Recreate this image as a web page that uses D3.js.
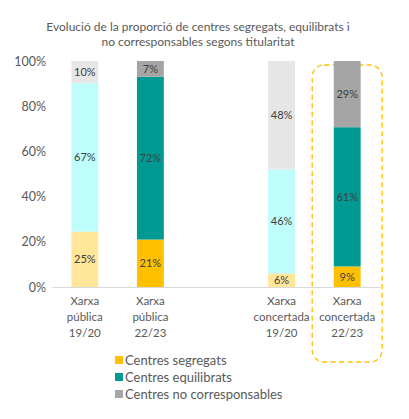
<!DOCTYPE html>
<html>
<head>
<meta charset="utf-8">
<script src="https://cdn.jsdelivr.net/npm/d3@7"></script>
<style>
  body { margin: 0; background: #fff; }
  text { font-family: Lato, "Open Sans", sans-serif; }
</style>
</head>
<body>
<svg width="409" height="419"></svg>
<script>
var categories = ["Xarxa pública 19/20", "Xarxa pública 22/23", "", "Xarxa concertada 19/20", "Xarxa concertada 22/23"];
var periods = ["19/20", "22/23", null, "19/20", "22/23"];
var seriesNames = ["Centres segregats", "Centres equilibrats", "Centres no corresponsables"];
var segregats = [25, 21, null, 6, 9];
var equilibrats = [67, 72, null, 46, 61];
var noCorresponsables = [10, 7, null, 48, 29];
var yTicks = [0, 0.2, 0.4, 0.6, 0.8, 1];
var titleLines = ["Evolució de la proporció de centres segregats, equilibrats i", "no corresponsables segons titularitat"];

var darkColors = ["#FFC000", "#009A93", "#A5A5A5"];
var lightColors = ["#FFE699", "#BFFCFC", "#E7E6E6"];

var svg = d3.select("svg"),
    width = +svg.attr("width"),
    height = +svg.attr("height");

var rows = categories.map(function(c, i) {
  return { cat: c, period: periods[i], s0: segregats[i], s1: equilibrats[i], s2: noCorresponsables[i] };
}).filter(function(d) { return d.s0 != null; });

var stack = d3.stack()
    .keys(["s0", "s1", "s2"])
    .offset(d3.stackOffsetExpand);
var layers = stack(rows);

var x = d3.scaleBand()
    .domain(categories)
    .range([52, 380])
    .paddingInner(0.59)
    .paddingOuter(0.295);

var y = d3.scaleLinear()
    .domain([0, 1])
    .range([287, 61]);

// title
svg.append("g").selectAll("text")
  .data(titleLines)
  .enter().append("text")
    .attr("x", 198)
    .attr("y", function(d, i) { return 31 + i * 15; })
    .attr("text-anchor", "middle")
    .style("font-size", "12px")
    .style("fill", "#595959")
    .text(function(d) { return d; });

// highlight box behind the last bar
var last = categories[categories.length - 1];
var cx = x(last) + x.bandwidth() / 2;
svg.append("rect")
    .attr("x", cx - 35)
    .attr("y", y(1) + 4)
    .attr("width", 70)
    .attr("height", 362 - y(1) - 4)
    .attr("rx", 12)
    .attr("ry", 12)
    .attr("fill", "none")
    .attr("stroke", "#FFC000")
    .attr("stroke-width", 1.3)
    .attr("stroke-dasharray", "5,3.5");

// y axis
var yAxis = svg.append("g")
    .attr("transform", "translate(52,0)")
    .call(d3.axisLeft(y).tickValues(yTicks).tickFormat(d3.format(".0%")).tickSize(0).tickPadding(6));
yAxis.select(".domain").remove();
yAxis.selectAll("text")
    .style("font-family", "Lato, sans-serif")
    .style("font-size", "12.5px")
    .style("fill", "#595959");

// bars
layers.forEach(function(layer, k) {
  var g = svg.append("g");
  g.selectAll("rect")
    .data(layer)
    .enter().append("rect")
      .attr("x", function(d) { return x(d.data.cat); })
      .attr("y", function(d) { return y(d[1]); })
      .attr("width", x.bandwidth())
      .attr("height", function(d) { return y(d[0]) - y(d[1]); })
      .attr("fill", function(d) { return d.data.period == "19/20" ? lightColors[k] : darkColors[k]; });
  g.selectAll("text")
    .data(layer)
    .enter().append("text")
      .attr("x", function(d) { return x(d.data.cat) + x.bandwidth() / 2; })
      .attr("y", function(d) { return (y(d[0]) + y(d[1])) / 2; })
      .attr("dy", ".35em")
      .attr("text-anchor", "middle")
      .style("font-size", "11px")
      .style("fill", "#404040")
      .text(function(d) { return d.data[layer.key] + "%"; });
});

// x axis
var xAxis = svg.append("g")
    .attr("transform", "translate(0,287)")
    .call(d3.axisBottom(x).tickSize(0).tickFormat(""));
xAxis.select(".domain").attr("stroke", "#D9D9D9");

var xLabels = svg.append("g").selectAll("text")
  .data(categories.filter(function(c) { return c != ""; }))
  .enter().append("text")
    .attr("x", function(d) { return x(d) + x.bandwidth() / 2; })
    .attr("y", 305)
    .attr("text-anchor", "middle")
    .style("font-size", "11.5px")
    .style("fill", "#595959");
xLabels.selectAll("tspan")
  .data(function(d) { return d.split(" "); })
  .enter().append("tspan")
    .attr("x", function() { return d3.select(this.parentNode).attr("x"); })
    .attr("dy", function(d, i) { return i == 0 ? 0 : 16; })
    .text(function(d) { return d; });

// legend
var legend = svg.append("g")
    .attr("transform", "translate(115,360)");
var item = legend.selectAll("g")
  .data(seriesNames)
  .enter().append("g")
    .attr("transform", function(d, i) { return "translate(0," + (i * 17) + ")"; });
item.append("rect")
    .attr("x", 0)
    .attr("y", -4)
    .attr("width", 8)
    .attr("height", 8)
    .attr("fill", function(d, i) { return darkColors[i]; });
item.append("text")
    .attr("x", 10)
    .attr("dy", ".35em")
    .style("font-size", "13px")
    .style("fill", "#595959")
    .text(function(d) { return d; });
</script>
</body>
</html>
